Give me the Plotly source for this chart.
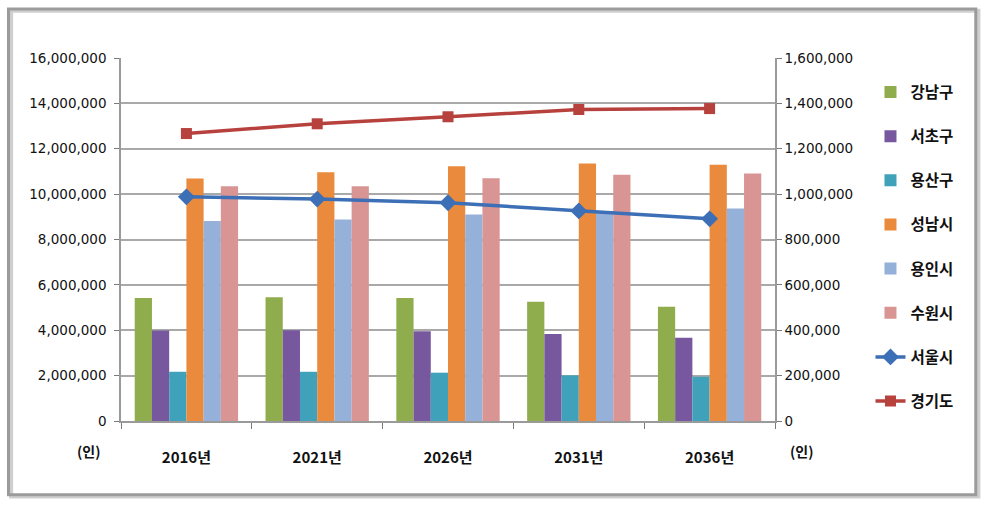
import plotly.graph_objects as go

years = ["2016년", "2021년", "2026년", "2031년", "2036년"]

gangnam = [542000, 546000, 542000, 526000, 504000]
seocho = [399000, 400000, 396000, 383000, 367000]
yongsan = [217000, 217000, 213000, 201000, 195000]
seongnam = [1069000, 1096000, 1123000, 1135000, 1129000]
yongin = [881000, 888000, 910000, 925000, 937000]
suwon = [1035000, 1035000, 1070000, 1085000, 1091000]

seoul = [9880000, 9780000, 9620000, 9260000, 8910000]
gyeonggi = [12670000, 13100000, 13410000, 13730000, 13770000]

bar_series = [
    ("강남구", gangnam, "#8fad4c"),
    ("서초구", seocho, "#77589e"),
    ("용산구", yongsan, "#3fa2ba"),
    ("성남시", seongnam, "#e98a3c"),
    ("용인시", yongin, "#95b1d9"),
    ("수원시", suwon, "#d99594"),
]
line_series = [
    ("서울시", seoul, "#3c6fb6", "diamond", 13),
    ("경기도", gyeonggi, "#b7413d", "square", 11),
]

right_ticks = list(range(0, 1600001, 200000))
left_ticks = list(range(0, 16000001, 2000000))

NUMFONT = "DejaVu Sans"
KFONT = "Noto Sans CJK KR"

fig = go.Figure()
for i, (name, vals, col) in enumerate(bar_series):
    fig.add_trace(go.Bar(x=years, y=vals, name=name, marker_color=col,
                         marker_line_width=0, yaxis="y", legendgroup=f"g{i}"))
for j, (name, vals, col, sym, sz) in enumerate(line_series):
    fig.add_trace(go.Scatter(x=years, y=vals, name=name, mode="lines+markers",
                             line=dict(color=col, width=3.5),
                             marker=dict(symbol=sym, size=sz, color=col),
                             yaxis="y2", legendgroup=f"l{j}"))

fig.update_layout(
    width=984, height=509,
    margin=dict(l=121, r=209, t=58, b=88),
    paper_bgcolor="white", plot_bgcolor="white",
    barmode="group", bargap=0.21, bargroupgap=0,
    font=dict(family=KFONT, color="#1a1a1a"),
    xaxis=dict(type="category", showgrid=False, showline=True, linecolor="#9a9a9a",
               linewidth=1.5, ticks="outside", tickson="boundaries", ticklen=6,
               tickcolor="#7a7a7a", ticklabelstandoff=22,
               tickfont=dict(family=KFONT, size=15, color="#111", weight="bold"),
               zeroline=False),
    yaxis=dict(side="right", range=[0, 1600000], tickvals=right_ticks,
               ticktext=[f"{v:,}" for v in right_ticks],
               showgrid=True, gridcolor="#a9a9a9", gridwidth=1.5,
               showline=True, linecolor="#9a9a9a", linewidth=1.5,
               ticks="outside", ticklen=5, tickcolor="#7a7a7a",
               tickfont=dict(family=NUMFONT, size=13.5, color="#111"),
               zeroline=False, fixedrange=True),
    yaxis2=dict(side="left", overlaying="y", range=[0, 16000000], tickvals=left_ticks,
                ticktext=[f"{v:,}" for v in left_ticks],
                showgrid=False, showline=True, linecolor="#9a9a9a", linewidth=1.5,
                ticks="outside", ticklen=5, tickcolor="#7a7a7a", ticklabelstandoff=5,
                tickfont=dict(family=NUMFONT, size=13.5, color="#111"),
                zeroline=False),
    legend=dict(x=1.146, y=0.952, xanchor="left", yanchor="top",
                font=dict(family=KFONT, size=15.5, color="#111", weight="bold"),
                tracegroupgap=21, itemwidth=30, bgcolor="rgba(0,0,0,0)"),
    showlegend=True,
)

# unit labels
fig.add_annotation(text="(인)", xref="paper", yref="paper", x=-0.049, y=-0.083,
                   xanchor="center", yanchor="middle",
                   showarrow=False, font=dict(family=KFONT, size=14, color="#111", weight="bold"))
fig.add_annotation(text="(인)", xref="paper", yref="paper", x=1.04, y=-0.083,
                   xanchor="center", yanchor="middle",
                   showarrow=False, font=dict(family=KFONT, size=14, color="#111", weight="bold"))

# outer frame (shadow + border)
fig.add_shape(type="rect", xref="paper", yref="paper", x0=-0.168, x1=1.311,
              y0=-0.208, y1=1.13, line=dict(color="#cfcfcf", width=4),
              fillcolor="rgba(0,0,0,0)", layer="below")
fig.add_shape(type="rect", xref="paper", yref="paper", x0=-0.172, x1=1.307,
              y0=-0.203, y1=1.135, line=dict(color="#9b9b9b", width=3),
              fillcolor="rgba(0,0,0,0)", layer="below")

fig.write_html("out.html")
